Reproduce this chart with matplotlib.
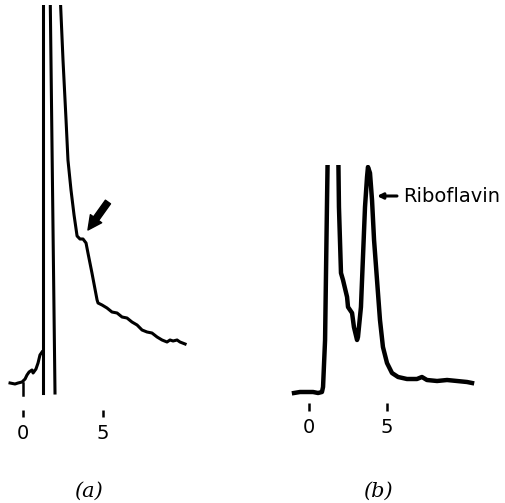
import numpy as np
import matplotlib
matplotlib.use("Agg")
import matplotlib.pyplot as plt

# ---- panel (a): sample chromatogram, retention time (min) vs response ----
a_base_t = [-0.81, -0.5, -0.31, -0.06, 0.13, 0.25, 0.38, 0.56, 0.63, 0.81, 0.94, 1.06, 1.19]
a_base_y = [0.0, -0.1, 0.0, 0.1, 0.4, 0.8, 1.1, 1.3, 1.0, 1.4, 2.0, 2.8, 3.1]

# two off-scale solvent peaks (pen strokes)
a_peak1_t = [1.25, 1.25]
a_peak1_y = [-1.0, 40.0]
a_peak2_t = [1.69, 2.0]
a_peak2_y = [40.0, -1.0]

# tailing trace after the solvent front
a_tail_t = [2.29, 2.50, 2.69, 2.81, 3.00, 3.19, 3.38, 3.56, 3.75, 3.94, 4.06, 4.31,
            4.63, 4.69, 4.94, 5.25, 5.56, 5.88, 6.19, 6.5, 6.81, 7.13, 7.44, 7.75,
            8.06, 8.38, 8.69, 9.0, 9.19, 9.38, 9.63, 9.81, 10.13]
a_tail_y = [40.0, 32.3, 26.3, 22.3, 19.3, 16.8, 14.7, 14.4, 14.4, 14.0, 13.0, 11.0,
            8.3, 8.0, 7.8, 7.5, 7.1, 7.0, 6.6, 6.5, 6.1, 5.8, 5.3, 5.1,
            5.0, 4.6, 4.3, 4.1, 4.3, 4.2, 4.3, 4.1, 3.9]

# injection mark
a_inj_t = [0.0, 0.0]
a_inj_y = [0.0, -1.2]

# arrow pointing at the shoulder
a_arrow_tip = (4.06, 15.3)
a_arrow_tail = (5.31, 18.1)

# ---- panel (b): riboflavin standard ----
b_t = [-0.96, -0.58, -0.13, 0.26, 0.58, 0.83, 0.90, 1.03, 1.09, 1.15, 1.22,
       1.86, 1.92, 2.05, 2.18, 2.44, 2.50, 2.76, 2.88, 3.08, 3.14, 3.33, 3.46,
       3.59, 3.72, 3.78, 3.91, 4.04, 4.17, 4.36, 4.55, 4.74, 5.0, 5.32, 5.71,
       6.28, 6.92, 7.24, 7.56, 8.21, 8.85, 9.49, 10.13, 10.45]
b_y = [-0.1, 0.0, 0.0, 0.0, -0.1, 0.0, 0.5, 5.2, 11.9, 18.5, 26.0,
       26.0, 18.5, 11.9, 11.2, 9.5, 8.5, 7.9, 6.5, 5.2, 5.5, 8.5, 13.5,
       18.5, 21.5, 22.5, 21.9, 19.2, 15.2, 11.2, 7.2, 4.5, 2.9, 1.9, 1.5,
       1.3, 1.3, 1.5, 1.2, 1.1, 1.2, 1.1, 1.0, 0.9]

b_label = "Riboflavin"
b_label_tip = (4.36, 19.6)
b_label_tail = (5.64, 19.6)
b_label_pos = (6.03, 19.6)

tick_pos = [0, 5]
tick_lab = ["0", "5"]

W, H = 506, 503
fig = plt.figure(figsize=(W / 100, H / 100), dpi=100)


def px_axes(left, right, top, bottom):
    return fig.add_axes([left / W, 1 - bottom / H, (right - left) / W, (bottom - top) / H])


def strip(ax, tick_len):
    for s in ax.spines.values():
        s.set_visible(False)
    ax.set_yticks([])
    ax.set_xticks(tick_pos)
    ax.set_xticklabels(tick_lab, fontsize=14)
    ax.tick_params(axis="x", length=tick_len, width=1.8, pad=5, direction="out")
    ax.patch.set_alpha(0)


# panel (a)
axa = px_axes(0, 200, 5, 410)
axa.set_xlim(-23 / 16, 177 / 16)
axa.set_ylim(-2.7, 37.8)
lw_a = 2.2
axa.plot(a_base_t, a_base_y, color="black", lw=lw_a)
axa.plot(a_peak1_t, a_peak1_y, color="black", lw=lw_a)
axa.plot(a_peak2_t, a_peak2_y, color="black", lw=lw_a)
axa.plot(a_tail_t, a_tail_y, color="black", lw=lw_a)
axa.plot(a_inj_t, a_inj_y, color="black", lw=1.8)
axa.annotate("", xy=a_arrow_tip, xytext=a_arrow_tail,
             arrowprops=dict(arrowstyle="simple,head_length=1.0,head_width=1.0,tail_width=0.45",
                             color="black", shrinkA=0, shrinkB=0, mutation_scale=10))
strip(axa, 5)

# panel (b)
axb = px_axes(280, 490, 165, 403)
axb.set_xlim(-29 / 15.6, 181 / 15.6)
axb.set_ylim(-1.1, 22.7)
axb.plot(b_t, b_y, color="black", lw=3.2)
axb.annotate("", xy=b_label_tip, xytext=b_label_tail,
             arrowprops=dict(arrowstyle="-|>", color="black", lw=2.2,
                             shrinkA=0, shrinkB=0, mutation_scale=8))
axb.text(b_label_pos[0], b_label_pos[1], b_label, fontsize=14, va="center", ha="left")
strip(axb, 6)

fig.text(88 / W, 1 - 491 / H, "(a)", fontsize=15, family="DejaVu Serif",
         style="italic", ha="center", va="center")
fig.text(378 / W, 1 - 491 / H, "(b)", fontsize=15, family="DejaVu Serif",
         style="italic", ha="center", va="center")

fig.savefig("out.png", dpi=100)
